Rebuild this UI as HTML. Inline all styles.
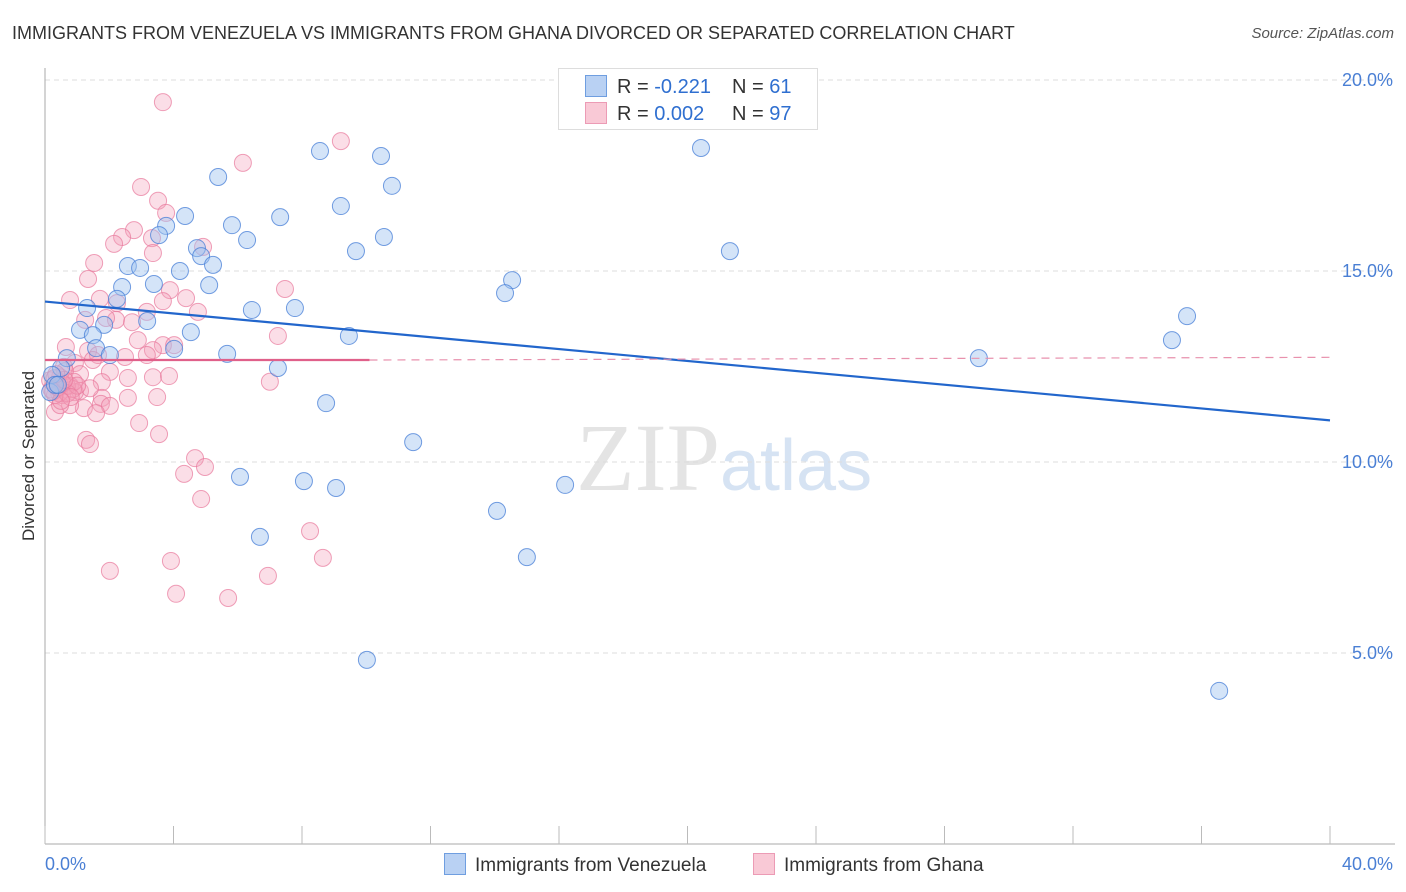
<!DOCTYPE html>
<html><head><meta charset="utf-8"><style>
body{margin:0;background:#fff;font-family:"Liberation Sans",sans-serif;}
#wrap{position:relative;width:1406px;height:892px;overflow:hidden;}
.t{position:absolute;white-space:nowrap;}
</style></head><body>
<div id="wrap">
<div class="t" style="left:12px;top:23px;font-size:18px;color:#333;">IMMIGRANTS FROM VENEZUELA VS IMMIGRANTS FROM GHANA DIVORCED OR SEPARATED CORRELATION CHART</div>
<div class="t" style="right:12px;top:25px;font-size:15px;color:#555;font-style:italic;">Source: ZipAtlas.com</div>
<svg id="plot" width="1406" height="892" style="position:absolute;left:0;top:0"></svg>
</div>
<script>
const yTicks=[5,10,15,20];
const xTickLabels=["0.0%","40.0%"];
const blueXv=[8.56,10.46,10.8,5.39,9.21,4.36,7.32,5.82,3.77,3.55,10.55,6.29,4.73,9.68,4.86,5.23,2.58,2.96,4.2,14.54,3.39,5.11,2.4,14.32,2.24,6.44,7.78,1.31,3.18,1.84,1.09,4.54,1.49,9.46,1.59,4.02,2.02,5.67,0.68,0.5,7.25,0.22,0.16,0.31,8.75,11.46,6.07,8.06,9.06,16.19,14.07,6.69,15.0,10.02,20.42,21.32,29.07,35.08,35.55,36.55,0.4];
const blueY=[18.14,18.01,17.23,17.46,16.7,16.44,16.41,16.2,16.18,15.94,15.89,15.81,15.6,15.52,15.39,15.16,15.13,15.08,15.0,14.76,14.66,14.63,14.58,14.42,14.27,13.98,14.03,14.03,13.69,13.59,13.46,13.4,13.32,13.3,12.98,12.96,12.8,12.83,12.72,12.46,12.46,12.28,11.83,12.02,11.54,10.52,9.61,9.5,9.32,9.4,8.72,8.04,7.51,4.82,18.22,15.52,12.72,13.19,13.82,4.01,12.02];
const pinkXv=[3.67,9.21,6.16,2.99,3.52,3.77,2.77,2.4,2.15,3.33,4.92,3.36,1.53,1.34,7.47,3.89,4.39,0.78,1.71,3.67,4.76,2.24,3.17,2.21,1.9,2.71,1.25,7.25,2.89,3.67,3.36,4.02,0.65,1.34,1.65,2.49,3.17,1.49,0.93,0.59,1.09,2.02,2.58,3.36,3.86,1.77,0.47,0.78,1.09,0.16,0.37,0.53,0.93,1.77,3.49,2.58,1.74,1.21,2.02,0.31,0.78,1.59,2.93,3.55,1.28,1.4,7.0,4.67,4.33,4.98,4.86,8.25,8.65,2.02,3.92,6.94,4.08,5.7,0.47,0.62,0.44,0.87,0.31,0.68,1.4,0.3,0.9,0.2,0.55,0.25,0.7,1.0,0.4,0.6,0.35,0.8,0.5];
const pinkY=[19.42,18.4,17.83,17.2,16.84,16.52,16.07,15.89,15.71,15.86,15.63,15.47,15.21,14.79,14.53,14.5,14.29,14.24,14.27,14.21,13.93,14.16,13.93,13.72,13.77,13.66,13.72,13.3,13.19,13.06,12.93,13.06,13.01,12.91,12.8,12.75,12.8,12.67,12.59,12.49,12.3,12.36,12.2,12.22,12.25,12.09,12.22,12.0,11.86,12.14,12.0,11.75,11.83,11.68,11.7,11.68,11.52,11.41,11.47,11.31,11.49,11.28,11.02,10.73,10.58,10.47,12.1,10.1,9.69,9.87,9.03,8.19,7.49,7.15,7.41,7.02,6.55,6.44,11.49,12.38,11.8,11.91,11.75,11.99,11.93,12.2,12.1,11.9,12.05,11.85,11.8,12.0,11.95,12.15,12.3,11.7,11.6];
const blueTrend=[[0,14.2],[40,11.09]];
const pinkTrend=[[0,12.67],[10.1,12.67],[40,12.74]];
const svg=document.getElementById('plot');const NS='http://www.w3.org/2000/svg';
const X0=45,X1=1330,Y0=844,PX=38.2;
const xs=v=>X0+v/40*(X1-X0), ys=v=>Y0-v*PX;
function mk(t,a){const e=document.createElementNS(NS,t);for(const k in a)e.setAttribute(k,a[k]);svg.appendChild(e);return e;}
let w=mk('text',{x:720,y:490,'font-size':96,'text-anchor':'end',fill:'#e4e4e4','font-family':'Liberation Serif, serif'});w.textContent='ZIP';


let w2=mk('text',{x:720,y:490,'font-size':72,fill:'#d6e3f3','font-family':'Liberation Sans, sans-serif'});w2.textContent='atlas';


yTicks.forEach(v=>{const y=ys(v);
 let g=mk('line',{x1:X0,x2:1395,y1:y,y2:y,stroke:'#ddd','stroke-dasharray':'5,4'});
 
 
 let t=mk('text',{x:1393,y:y+6,'text-anchor':'end','font-size':18,fill:'#4a7fd4'});t.textContent=v.toFixed(1)+'%';
 
 
});
let ax=mk('line',{x1:X0,x2:X0,y1:68,y2:Y0,stroke:'#aaa'});


let bx=mk('line',{x1:X0,x2:1395,y1:Y0,y2:Y0,stroke:'#aaa'});


for(let i=0;i<=10;i++){const x=X0+i*(X1-X0)/10;let tk=mk('line',{x1:x,x2:x,y1:Y0,y2:Y0-18,stroke:'#bbb'});
 
 }
let xl0=mk('text',{x:45,y:870,'font-size':18,fill:'#4a7fd4'});xl0.textContent=xTickLabels[0];


let xl1=mk('text',{x:1393,y:870,'text-anchor':'end','font-size':18,fill:'#4a7fd4'});xl1.textContent=xTickLabels[1];


let yt=mk('text',{x:34,y:456,'font-size':17,fill:'#333','text-anchor':'middle',transform:'rotate(-90 34 456)'});yt.textContent='Divorced or Separated';


pinkXv.forEach((v,i)=>{let c=mk('circle',{cx:xs(v),cy:ys(pinkY[i]),r:8.5,fill:'rgba(244,160,185,0.35)',stroke:'rgba(232,120,155,0.7)','stroke-width':1});
 
 });
blueXv.forEach((v,i)=>{let c=mk('circle',{cx:xs(v),cy:ys(blueY[i]),r:8.5,fill:'rgba(160,195,240,0.45)',stroke:'rgba(70,125,215,0.75)','stroke-width':1});
 
 });
let bl=mk('line',{x1:xs(blueTrend[0][0]),y1:ys(blueTrend[0][1]),x2:xs(blueTrend[1][0]),y2:ys(blueTrend[1][1]),stroke:'#2266cc','stroke-width':2.2});


let pl=mk('line',{x1:xs(pinkTrend[0][0]),y1:ys(pinkTrend[0][1]),x2:xs(pinkTrend[1][0]),y2:ys(pinkTrend[1][1]),stroke:'#e0608a','stroke-width':2.2});


let pd=mk('line',{x1:xs(pinkTrend[1][0]),y1:ys(pinkTrend[1][1]),x2:xs(pinkTrend[2][0]),y2:ys(pinkTrend[2][1]),stroke:'#e891ad','stroke-width':1.2,'stroke-dasharray':'8,6'});


let lb=mk('rect',{x:558.5,y:68.5,width:259,height:61,fill:'#fff',stroke:'#ddd'});


[[86,'#b9d1f3','#6f9ee0','-0.221','61'],[113,'#f9c9d6','#ec9bb5','0.002','97']].forEach((r,i)=>{
 let s=mk('rect',{x:585.5,y:r[0]-10.5,width:21,height:21,fill:r[1],stroke:r[2]});
 
 
 let t=mk('text',{x:617,y:r[0]+7,'font-size':20,fill:'#333'});
 t.innerHTML='R = <tspan fill="#2f6fd0">'+r[3]+'</tspan>';
 
 
 let n=mk('text',{x:732,y:r[0]+7,'font-size':20,fill:'#333'});
 n.innerHTML='N = <tspan fill="#2f6fd0">'+r[4]+'</tspan>';
 
 
});
[[444,'#b9d1f3','#6f9ee0','Immigrants from Venezuela'],[753,'#f9c9d6','#ec9bb5','Immigrants from Ghana']].forEach(r=>{
 let s=mk('rect',{x:r[0]+0.5,y:853.5,width:21,height:21,fill:r[1],stroke:r[2]});
 
 
 let t=mk('text',{x:r[0]+31,y:871,'font-size':19,fill:'#333'});t.textContent=r[3];
 
 
});
</script>
</body></html>
